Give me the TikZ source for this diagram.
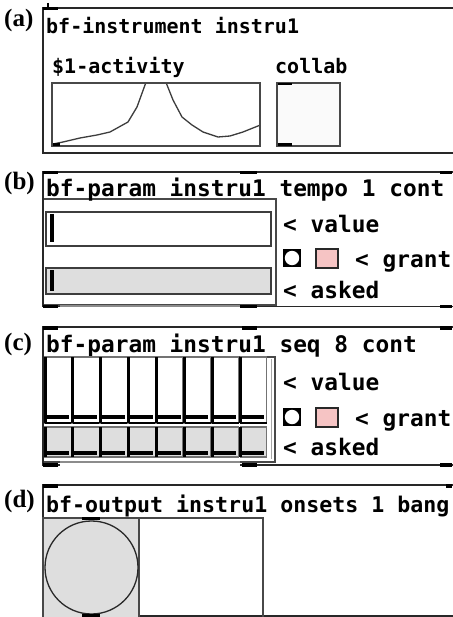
\documentclass[tikz,border=0pt]{standalone}
\usepackage{fontspec}
\newfontfamily\pdmono{DejaVu Sans Mono}
\newfontfamily\lblserif{Liberation Serif}
\definecolor{pdpink}{RGB}{246,196,196}
\definecolor{pdgray}{RGB}{222,222,222}
\definecolor{pdline}{RGB}{40,40,40}
\begin{document}
\begin{tikzpicture}[x=1pt,y=-1pt,
  frame/.style={draw=pdline, line width=1.5pt},
  inner/.style={draw=pdline!85, line width=1.2pt},
  port/.style={fill=black},
  slidbox/.style={draw=pdline!90, line width=1.3pt},
  colbox/.style={draw=black!55, line width=1.2pt},
  knob/.style={draw=black, line width=3.5pt},
  txtA/.style={anchor=base west, inner sep=0pt, font=\pdmono\bfseries\fontsize{20}{20}\selectfont},
  txtB/.style={anchor=base west, inner sep=0pt, font=\pdmono\bfseries\fontsize{22.8}{23}\selectfont},
  txtD/.style={anchor=base west, inner sep=0pt, font=\pdmono\bfseries\fontsize{21.6}{22}\selectfont},
  lbl/.style={anchor=base west, inner sep=0pt, font=\lblserif\bfseries\fontsize{25}{25}\selectfont},
  pinkbox/.style={draw=pdline, line width=1.4pt, fill=pdpink},
  togglebox/.style={fill=black}
]
\useasboundingbox (0,0) rectangle (452,617);
\fill[white] (0,0) rectangle (452,617);

% ================= (a) =================
\node[lbl] (la) at (4,27) {(a)};
\draw[frame] (460,8) -- (43,8) -- (43,153) -- (460,153);
\fill[port] (43,7) rectangle (58,10.5);
\draw[line width=2.5pt] (48,3) -- (48,9);
\node[txtA] (ta) at (46,34) {bf-instrument instru1};
\node[txtA] (act) at (52,74) {\$1-activity};
\node[txtA] (col) at (275,74) {collab};
\begin{scope}
  \clip (52,83) rectangle (260,146);
  \draw[pdline!90, line width=1.3pt]
    (53,144) -- (63,142) -- (80,138) -- (97,135) -- (110,132) -- (128,122)
    -- (137,107) -- (145,85) -- (147,79) -- (165,79) -- (167,85) -- (173,100)
    -- (182,117) -- (192,125) -- (203,132) -- (218,137) -- (230,136)
    -- (243,132) -- (258,126) -- (262,124);
\end{scope}
\draw[inner] (52,83) rectangle (260,146);
\fill[port] (53,143) rectangle (60,146);
\draw[inner, fill=black!2] (277,83) rectangle (340,146);
\fill[port] (278,83) rectangle (292,85.5);
\fill[port] (278,143.5) rectangle (292,146);

% ================= (b) =================
\node[lbl] (lb) at (4,190) {(b)};
\draw[inner] (43,199) rectangle (276,305);
\draw[frame] (460,172) -- (43,172) -- (43,306.5) -- (60,306.5);
\draw[frame] (240,306.5) -- (460,306.5);
\draw[draw=black!45, line width=1.2pt] (60,306) -- (240,306);
\foreach \xa/\xb in {43/58, 240/257, 440/452} {
  \fill[port] (\xa,171) rectangle (\xb,174.5);
  \fill[port] (\xa,304.5) rectangle (\xb,308);
}
\node[txtB] (tb) at (46,197) {bf-param instru1 tempo 1 cont};
% horizontal sliders
\draw[slidbox, fill=white] (46,212) rectangle (271,246);
\draw[knob] (52,214) -- (52,242);
\draw[slidbox, fill=pdgray] (46,268) rectangle (271,294);
\draw[knob] (52,270) -- (52,291);
\node[txtB] (vb) at (283,233) {< value};
\fill[togglebox] (283,249) rectangle (301,267);
\fill[white] (292,258) circle (7.2);
\draw[pinkbox] (316,249) rectangle (338,268);
\node[txtB] (gb) at (355,267) {< grant};
\node[txtB] (ab) at (283,298) {< asked};

% ================= (c) =================
\node[lbl] (lc) at (4,350) {(c)};
\draw[inner] (43,357) rectangle (275,462);
\draw[draw=black!35, line width=1pt] (271.5,359) -- (271.5,459);
\draw[frame] (460,327) -- (43,327) -- (43,465) -- (60,465);
\draw[frame] (240,465) -- (460,465);
\draw[draw=black!45, line width=1.2pt] (60,462) -- (240,462);
\foreach \xa/\xb in {43/58, 242/257, 440/452} {
  \fill[port] (\xa,326) rectangle (\xb,329.5);
  \fill[port] (\xa,463) rectangle (\xb,467);
}
\node[txtB] (tc) at (46,352) {bf-param instru1 seq 8 cont};
\foreach \i in {0,...,7} {
  \pgfmathsetmacro\xl{45+27.9*\i}
  \pgfmathsetmacro\xr{45+27.9*(\i+1)}
  \draw[colbox, fill=white] (\xl,357) rectangle (\xr-1.5,423);
  \draw[line width=3pt] (\xl,357) -- (\xl,423);
  \draw[line width=4.5pt] (\xl,417) -- (\xr-4,417);
  \draw[line width=2pt] (\xl,423) -- (\xr-1.5,423);
  \draw[colbox, fill=pdgray] (\xl,427) rectangle (\xr-1.5,457);
  \draw[line width=3pt] (\xl,427) -- (\xl,457);
  \draw[line width=4.5pt] (\xl,453) -- (\xr-4,453);
}
\node[txtB] (vc) at (283,390) {< value};
\fill[togglebox] (283,408) rectangle (301,426);
\fill[white] (292,417) circle (7.2);
\draw[pinkbox] (316,408) rectangle (338,427);
\node[txtB] (gc) at (355,426) {< grant};
\node[txtB] (ac) at (283,455) {< asked};

% ================= (d) =================
\node[lbl] (ld) at (4,507) {(d)};
\draw[frame] (460,485) -- (43,485) -- (43,620);
\draw[frame] (43,616) -- (460,616);
\fill[port] (43,484) rectangle (58,487.5);
\fill[port] (446,484) rectangle (452,487.5);
\node[txtD] (td) at (46,512) {bf-output instru1 onsets 1 bang};
\draw[inner] (43,518) rectangle (263,620);
\draw[inner, fill=pdgray] (43,518) rectangle (139,620);
\draw[pdline, line width=1.3pt] (91.5,567.5) circle (46.5);
\fill[port] (82,517) rectangle (100,520);
\fill[port] (82,613.5) rectangle (100,617);
\end{tikzpicture}
\end{document}
